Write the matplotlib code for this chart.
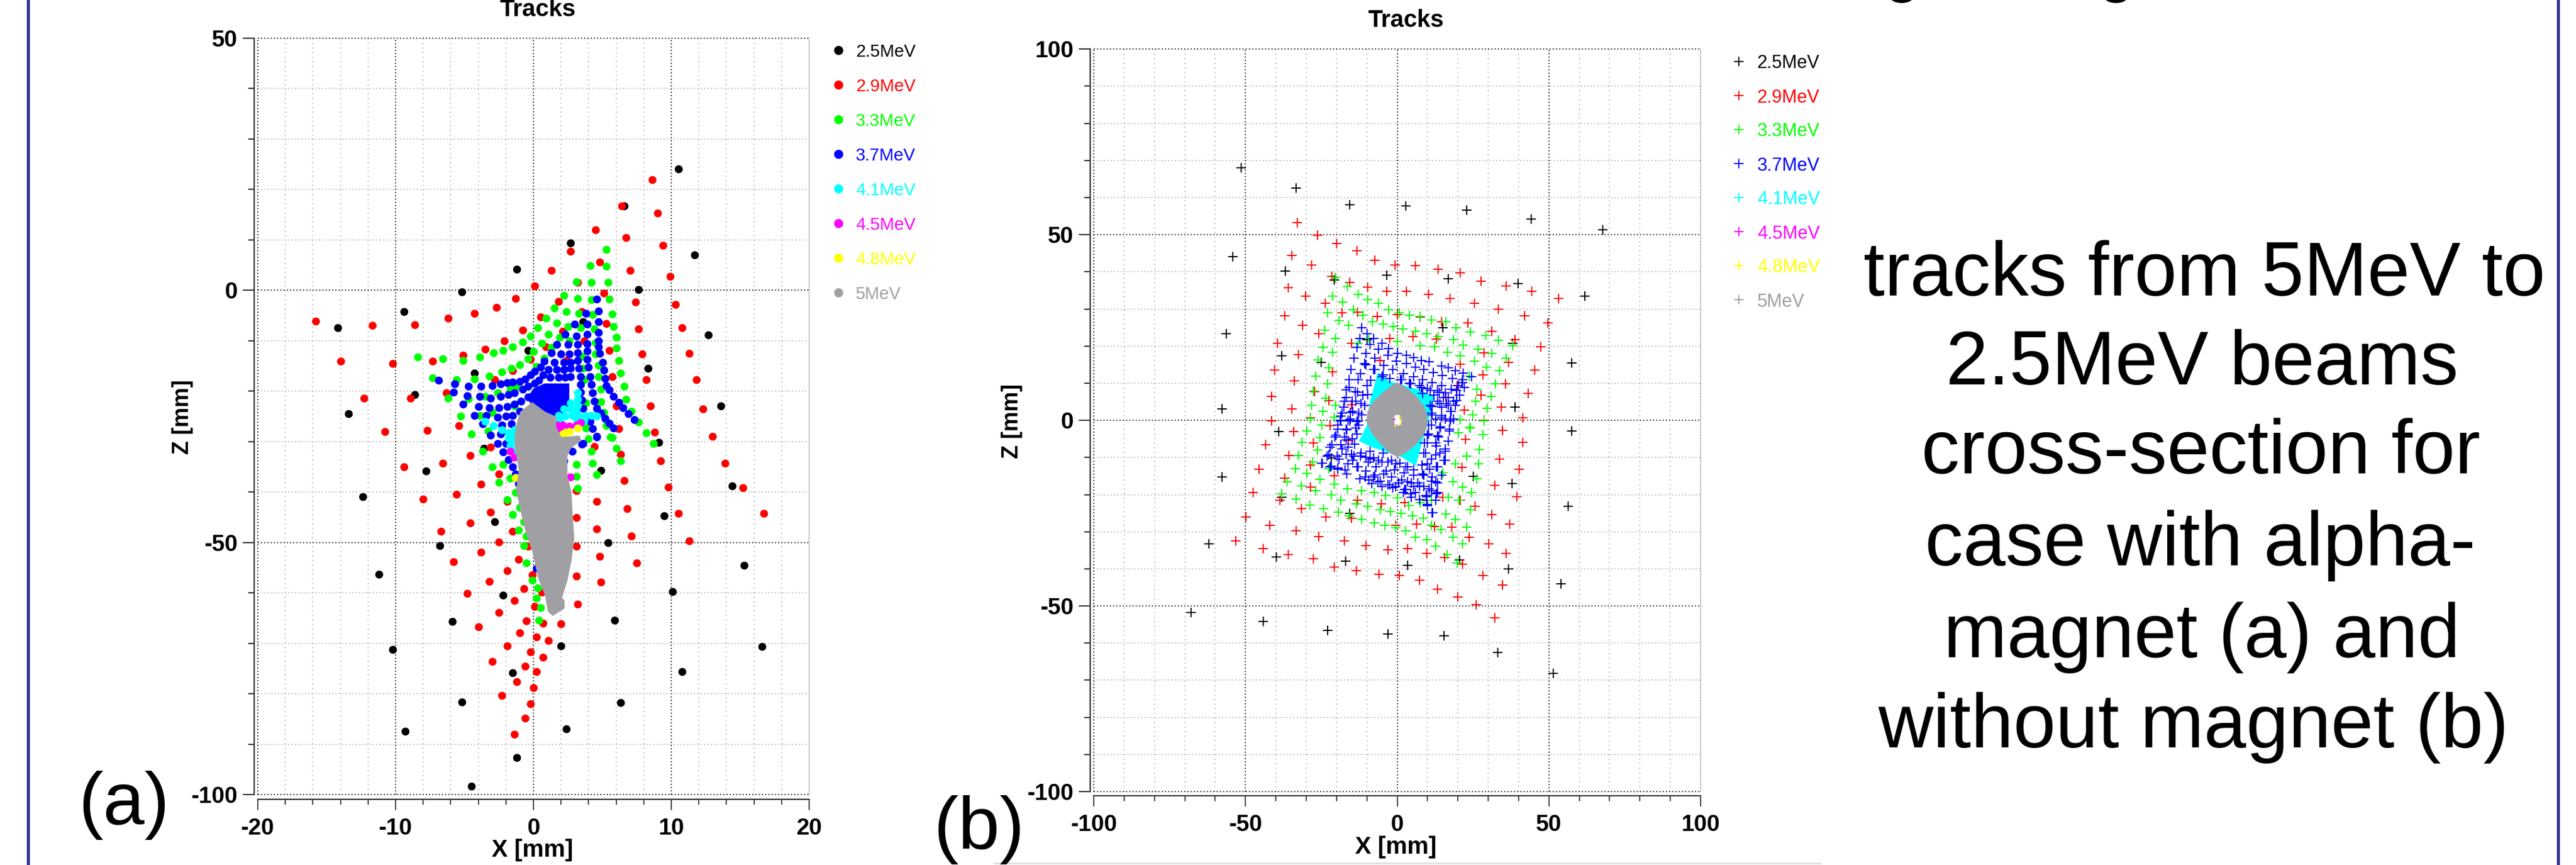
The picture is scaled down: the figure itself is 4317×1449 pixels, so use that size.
import matplotlib
matplotlib.use("Agg")
import matplotlib.pyplot as plt
from matplotlib import font_manager as fm
from matplotlib.patches import Ellipse
from matplotlib.lines import Line2D

W, H = 4317, 1449
names = {f.name for f in fm.fontManager.ttflist}
NARROW = "Liberation Sans Narrow" if "Liberation Sans Narrow" in names else "Liberation Sans"
plt.rcParams["axes.unicode_minus"] = False

ENERGIES = ["2.5MeV", "2.9MeV", "3.3MeV", "3.7MeV", "4.1MeV", "4.5MeV", "4.8MeV", "5MeV"]
COLORS = ["#000000", "#ff0000", "#00ff00", "#0000ff", "#00ffff", "#ff00ff", "#ffff00", "#a0a0a4"]

PANEL_TEXT = ["tracks from 5MeV to", "2.5MeV beams", "cross-section for", "case with alpha-", "magnet (a) and", "without magnet (b)"]

# ---------- panel (a), X and Z in mm ----------
A_BLACK = [(10.5,24.0),(6.6,16.7),(2.7,9.4),(11.7,7.0),(-1.2,4.1),(7.6,0.1),(-5.2,-0.3),(-9.4,-4.2),(-14.2,-7.4),
 (3.6,-6.3),(12.7,-8.9),(-0.4,-11.9),(8.3,-15.5),(-4.3,-16.5),(-8.6,-20.7),(13.6,-23.0),(-13.4,-24.5),(9.1,-30.2),
 (-3.6,-31.3),(-7.8,-35.9),(4.9,-35.7),(14.4,-38.8),(-12.4,-40.9),(9.5,-44.7),(-2.8,-45.9),(-6.8,-50.6),(5.4,-50.1),
 (15.3,-54.6),(-11.2,-56.3),(10.1,-59.8),(-2.2,-60.5),(-5.9,-65.7),(5.9,-65.5),(-10.2,-71.2),(2.0,-70.5),(16.6,-70.6),
 (10.8,-75.6),(-1.5,-75.9),(-5.2,-81.6),(6.3,-81.8),(-9.3,-87.5),(2.4,-87.0),(-1.2,-92.7),(-4.5,-98.4)]
A_RED = [(8.6,21.9),(6.4,16.7),(9.0,15.3),(4.5,12.0),(6.7,10.4),(9.4,8.9),(2.7,7.7),(4.8,5.6),(1.3,3.9),(7.0,3.9),(9.9,2.7),
 (3.2,1.5),(0.1,0.8),(5.1,-0.6),(-1.3,-1.6),(1.8,-2.2),(7.4,-2.3),(10.3,-2.8),(-2.7,-3.4),(3.5,-4.2),(-4.3,-4.6),(0.5,-5.3),
 (-6.2,-5.5),(-15.8,-6.1),(-11.7,-7.0),(-8.6,-6.8),(5.3,-6.6),(10.8,-7.5),(7.6,-7.7),(-0.8,-7.9),(2.1,-8.2),(-2.1,-10.0),
 (3.7,-10.1),(0.9,-11.2),(-3.5,-11.7),(5.5,-11.9),(11.3,-12.5),(7.9,-12.7),(-5.1,-12.9),(-0.2,-13.7),(-14.0,-14.1),(-7.3,-14.1),
 (-10.2,-14.6),(2.4,-13.9),(-1.5,-16.0),(5.7,-17.2),(-2.8,-17.8),(11.8,-17.7),(8.2,-17.8),(-6.3,-20.4),(-8.9,-21.4),(-12.3,-21.4),
 (8.5,-23.0),(12.3,-23.6),(6.0,-22.9),(-5.4,-26.8),(-10.8,-28.0),(-7.7,-27.8),(6.2,-27.5),(8.8,-28.2),(13.0,-29.0),(4.4,-31.0),
 (-3.1,-31.1),(-4.6,-32.8),(6.3,-32.5),(9.2,-33.8),(13.9,-34.3),(-6.6,-34.3),(-9.4,-35.0),(-2.5,-36.4),(6.6,-37.8),(-3.8,-38.5),
 (9.8,-39.0),(15.2,-39.2),(-5.6,-40.5),(-8.0,-41.4),(-1.9,-41.9),(3.1,-39.8),(4.6,-41.9),(6.8,-43.3),(-3.1,-44.0),(10.5,-44.2),
 (16.7,-44.2),(3.1,-45.1),(-4.6,-46.2),(4.6,-47.3),(-6.7,-47.8),(-1.5,-47.8),(7.1,-48.7),(11.3,-49.7),(-2.5,-49.9),(3.1,-50.8),
 (-0.4,-50.8),(-3.8,-52.0),(4.8,-52.8),(-1.1,-53.4),(-5.8,-53.9),(7.5,-54.1),(-1.9,-55.6),(3.1,-56.7),(-0.1,-56.4),(-3.2,-57.7),
 (4.9,-57.9),(-0.7,-59.2),(0.6,-59.9),(-4.8,-60.1),(-1.4,-61.5),(0.1,-62.7),(3.2,-62.2),(-2.5,-63.9),(-0.5,-65.6),(0.7,-66.0),
 (2.0,-66.2),(-4.0,-66.7),(-1.0,-67.9),(0.2,-68.8),(1.1,-69.5),(-1.9,-70.5),(-0.2,-71.7),(0.7,-72.8),(-3.0,-73.6),(-0.6,-74.5),
 (0.2,-75.6),(-1.2,-77.6),(0.0,-78.8),(-2.3,-80.4),(-0.2,-82.0),(-0.6,-84.9),(-1.4,-88.0)]
A_GREEN = [(5.3,8.1),(4.1,4.9),(5.3,4.8),(3.1,1.7),(4.2,1.5),(5.4,1.5),(2.2,-1.1),(3.2,-1.6),(4.2,-1.9),(5.5,-1.8),(1.5,-3.5),
 (2.4,-4.2),(3.3,-4.6),(4.3,-4.9),(5.7,-4.7),(0.9,-5.6),(1.7,-6.5),(3.4,-7.5),(4.4,-7.7),(5.8,-7.2),(0.3,-7.5),(2.5,-7.2),
 (-0.2,-9.1),(1.1,-8.7),(1.9,-9.3),(2.6,-10.0),(4.5,-10.4),(6.0,-9.4),(0.6,-10.5),(-0.8,-10.3),(-1.5,-11.2),(1.3,-11.4),
 (6.0,-11.5),(-2.2,-12.0),(-2.9,-12.4),(0.0,-12.2),(-3.9,-13.2),(-8.4,-13.2),(-6.6,-13.6),(-5.1,-13.9),(-0.4,-13.6),(0.8,-13.5),
 (3.5,-13.1),(4.5,-12.7),(6.2,-13.9),(-1.0,-14.8),(0.2,-15.1),(4.7,-14.9),(-1.6,-15.5),(3.6,-15.5),(-2.3,-16.2),(6.3,-16.4),
 (-3.2,-17.0),(-7.3,-17.4),(-5.6,-17.8),(-4.3,-17.6),(4.7,-17.2),(3.7,-17.7),(-1.2,-19.1),(6.6,-19.1),(4.9,-19.6),(-1.7,-19.6),
 (-2.6,-20.4),(-3.5,-21.1),(-6.2,-21.4),(-4.7,-21.5),(6.7,-21.7),(4.9,-22.1),(3.8,-22.4),(-1.4,-23.0),(-3.0,-24.3),(-3.9,-24.8),
 (-5.3,-25.0),(7.1,-24.0),(5.1,-24.2),(7.6,-26.2),(5.3,-26.9),(3.8,-27.3),(-3.3,-27.9),(-4.5,-28.5),(8.2,-28.3),(5.7,-29.2),
 (4.0,-29.5),(8.7,-30.4),(5.6,-29.1),(-3.7,-31.9),(4.2,-31.9),(6.0,-31.4),(6.3,-33.8),(3.1,-34.5),(4.3,-34.3),(-2.2,-34.5),
 (-3.0,-35.0),(3.1,-36.9),(4.6,-36.6),(-1.7,-37.3),(-2.5,-38.1),(3.2,-39.3),(-1.3,-40.1),(-1.9,-41.5),(-1.0,-43.1),(-1.5,-44.5),
 (-0.7,-45.9),(-1.1,-47.6),(-0.5,-48.7),(-0.7,-50.7),(-0.5,-54.1),(-0.1,-57.5),(0.3,-59.0),(0.2,-61.1),(0.5,-62.9),(0.4,-65.5)]
A_BLUE = [(4.6,-1.8),(4.7,-4.1),(3.8,-4.6),(4.7,-6.3),(3.0,-6.7),(3.9,-6.7),(4.7,-8.4),(2.3,-8.8),(3.1,-9.1),(3.9,-8.8),(4.7,-10.0),
 (1.7,-10.8),(2.5,-10.8),(3.2,-10.8),(3.9,-10.6),(4.7,-11.2),(1.3,-12.4),(2.0,-12.6),(2.6,-12.7),(3.2,-12.4),(3.9,-12.1),(4.8,-12.5),
 (0.8,-14.1),(1.5,-14.3),(2.2,-14.3),(2.7,-14.3),(3.2,-14.0),(3.9,-13.7),(5.0,-14.3),(0.5,-15.3),(1.1,-15.7),(1.7,-15.7),(2.2,-15.7),
 (2.7,-15.5),(3.3,-15.5),(4.0,-15.3),(5.1,-15.9),(0.1,-16.1),(0.7,-16.8),(-0.2,-16.8),(-0.6,-17.6),(-1.0,-18.1),(-1.5,-18.2),
 (-1.9,-18.3),(-2.4,-18.6),(-3.0,-18.9),(-3.8,-19.0),(-4.7,-19.0),(-5.7,-18.6),(-6.9,-17.9),(0.4,-17.9),(1.2,-17.3),(1.8,-17.3),
 (2.3,-17.3),(2.7,-17.1),(3.4,-17.1),(4.1,-17.1),(5.2,-17.5),(5.3,-18.9),(5.5,-19.8),(5.8,-21.0),(6.2,-22.2),(6.5,-23.3),(6.9,-24.5),
 (7.3,-25.7),(0.1,-18.5),(-0.4,-19.1),(-0.8,-19.6),(-1.4,-20.3),(-1.8,-20.7),(-2.4,-21.1),(-3.1,-21.4),(-3.9,-21.1),(-4.8,-20.9),
 (-5.8,-20.2),(3.4,-18.7),(4.2,-18.7),(3.4,-20.2),(4.3,-20.4),(3.5,-21.8),(4.4,-22.0),(3.6,-23.4),(4.6,-23.4),(4.9,-24.4),(5.2,-25.4),
 (5.5,-26.4),(5.8,-27.3),(4.1,-26.0),(4.3,-27.5),(4.6,-29.0),(3.6,-30.4),(0.1,-20.6),(-0.4,-21.2),(-0.9,-22.0),(-1.4,-22.6),(-1.9,-23.1),
 (-2.5,-23.3),(-3.2,-23.3),(-4.0,-23.1),(-5.1,-22.6),(-1.0,-24.0),(-1.5,-24.8),(-2.0,-25.0),(-2.6,-25.2),(-3.4,-24.9),(-4.3,-24.8),
 (-1.6,-26.5),(-2.3,-26.7),(-3.7,-26.5),(-2.4,-28.5),(-3.1,-28.8),(-2.6,-30.4),(-1.7,-30.7),(-2.0,-30.4),(-2.2,-32.1),(-1.8,-33.6),
 (-1.5,-35.0),(-1.3,-36.4),(-1.1,-38.3),(2.8,-31.9),(3.5,-30.5),(4.6,-29.1),(2.2,-33.9),(0.2,-55.1)]
A_BLUE_MASS = [(0.0,-19.5),(0.8,-18.5),(2.6,-18.5),(2.6,-23.0),(1.8,-25.6),(-0.1,-22.8),(-0.5,-21.5)]
A_CYAN = [(3.2,-20.4),(3.2,-21.6),(3.2,-22.8),(2.7,-22.4),(2.7,-23.6),(3.1,-24.0),(2.2,-23.6),(1.8,-24.8),(2.3,-25.0),(2.8,-24.8),
 (3.3,-24.8),(3.8,-24.8),(4.2,-24.8),(4.6,-25.0),(1.9,-25.8),(3.1,-25.4),(3.7,-25.8),(-3.5,-26.0),(-2.9,-26.9),(-2.3,-27.7),(-1.8,-28.3),
 (-1.4,-27.7),(-1.8,-29.3),(-1.5,-30.1),(-1.3,-28.9),(-1.7,-29.1),(-1.7,-30.8),(-1.5,-31.9)]
A_MAGENTA = [(1.7,-26.7),(2.1,-26.7),(2.6,-27.0),(3.1,-26.7),(3.4,-26.3),(1.9,-27.5),(-1.7,-31.9),(-1.4,-33.1),(2.7,-37.0)]
A_YELLOW = [(3.2,-27.3),(2.6,-28.1),(2.3,-28.3),(2.1,-28.5),(2.1,-29.5),(-1.3,-37.2)]
A_GRAY = [(-0.1,-22.4),(0.8,-24.2),(1.6,-25.2),(1.6,-27.3),(2.0,-29.3),(3.3,-29.0),(3.4,-29.8),(2.7,-31.1),(2.4,-32.8),(2.4,-36.7),
 (2.7,-40.1),(2.8,-45.2),(2.9,-49.2),(2.7,-53.7),(2.4,-57.6),(2.0,-61.0),(2.2,-61.6),(2.2,-63.0),(1.4,-64.4),(1.1,-63.6),(0.9,-60.5),
 (0.4,-57.1),(0.0,-52.0),(-0.5,-48.0),(-0.9,-43.5),(-1.2,-39.5),(-1.0,-35.6),(-1.3,-31.1),(-1.3,-28.8),(-1.2,-27.0),(-1.1,-25.8),(-0.9,-24.2)]

# ---------- panel (b), X and Z in mm ----------
B_BLACK = [(-51.4,68.1),(-33.3,62.5),(-15.6,58.0),(2.8,57.7),(23.0,56.7),(44.2,54.2),(67.7,51.4),(-54.2,44.1),(-36.9,40.3),(-20.7,37.8),
 (-3.4,39.1),(16.9,38.1),(39.9,36.9),(61.9,33.4),(-56.4,23.3),(-38.0,17.4),(-25.0,15.7),(15.1,24.9),(38.0,20.7),(57.6,15.5),(-57.8,3.1),
 (38.8,3.5),(57.6,-2.8),(-39.1,-3.1),(-57.8,-15.2),(25.0,-15.1),(37.8,-17.1),(-38.0,-20.7),(9.8,-21.5),(56.4,-23.2),(-15.6,-25.1),
 (-62.1,-33.2),(-39.9,-36.8),(-17.1,-38.0),(3.4,-39.0),(20.5,-37.6),(36.7,-40.0),(54.0,-44.0),(-67.9,-51.7),(-44.2,-54.2),(-23.0,-56.6),
 (-3.0,-57.6),(15.4,-58.0),(33.1,-62.5),(51.4,-68.1),(-10.0,21.8),(21.6,10.2),(-21.8,-10.1)]
B_RED = [(-32.9,53.3),(-26.3,49.9),(-19.9,47.6),(-13.2,45.7),(-34.8,44.4),(-7.3,43.2),(-28.2,41.9),(-0.6,41.9),(6.0,41.6),(13.5,40.7),
 (20.7,39.7),(-21.6,38.8),(-15.6,37.2),(27.7,37.5),(35.9,36.2),(-35.9,35.8),(-9.8,35.9),(44.4,34.7),(-3.4,34.8),(3.0,34.8),(10.3,34.0),
 (-30.1,33.4),(17.5,32.8),(53.2,32.8),(-23.7,31.5),(25.4,31.5),(33.3,29.9),(-18.1,29.0),(-13.0,29.2),(0.0,28.5),(-6.6,28.0),(-37.1,28.2),
 (42.0,28.2),(7.5,27.9),(14.7,26.6),(49.7,26.2),(-31.2,25.6),(23.3,26.2),(31.2,24.0),(-25.8,23.4),(5.3,22.6),(-2.4,22.1),(12.8,21.9),
 (-39.5,20.8),(38.8,21.8),(-15.1,20.8),(21.8,20.3),(47.2,19.8),(-32.5,17.7),(28.6,18.2),(36.7,15.7),(-5.6,16.1),(20.7,15.1),(-40.5,13.6),
 (45.3,13.6),(-21.3,13.0),(-33.9,10.7),(28.2,12.3),(35.6,9.8),(19.8,9.4),(-27.3,7.7),(43.1,7.2),(-41.4,6.4),(27.7,6.7),(-22.6,5.4),(16.0,6.1),
 (-34.8,3.1),(34.4,3.5),(-15.1,4.2),(22.2,2.8),(-28.6,0.6),(-41.4,-0.2),(28.6,0.0),(41.4,0.6),(-34.2,-3.1),(34.8,-2.7),(-22.2,-1.5),
 (-43.3,-6.5),(41.4,-5.9),(-27.7,-6.1),(-16.0,-5.4),(22.6,-5.1),(-35.7,-9.5),(33.7,-10.5),(-28.6,-12.1),(-45.5,-13.2),(40.3,-13.2),
 (-20.7,-14.9),(-37.1,-15.5),(32.2,-17.5),(21.3,-12.6),(-28.6,-18.0),(-47.4,-19.5),(39.4,-20.6),(-13.0,-21.5),(-38.6,-21.6),(15.1,-20.7),
 (20.7,-21.6),(-5.3,-22.5),(2.4,-22.2),(25.6,-23.2),(-31.6,-23.8),(31.2,-25.4),(-49.9,-26.1),(-23.5,-26.1),(-15.1,-26.4),(37.1,-28.0),
 (-42.0,-28.2),(-7.5,-27.6),(-0.4,-28.2),(6.4,-28.0),(17.9,-28.8),(12.2,-28.6),(-33.3,-29.8),(23.7,-31.5),(-25.8,-31.3),(-53.2,-32.5),
 (-17.5,-32.5),(30.1,-33.2),(-10.3,-33.8),(-44.2,-34.5),(-3.0,-34.8),(3.4,-34.5),(9.8,-35.8),(35.9,-35.8),(-35.9,-36.2),(15.6,-36.9),
 (-27.7,-37.3),(21.6,-38.7),(-20.7,-39.6),(-13.5,-40.5),(-6.0,-41.4),(28.2,-41.8),(0.6,-41.8),(7.3,-43.0),(34.8,-44.3),(13.2,-45.5),
 (20.0,-47.5),(26.1,-49.7),(32.2,-53.2)]
B_GREEN = [(-20.3,38.4),(-16.4,36.1),(-12.8,34.0),(-21.3,33.4),(-9.8,32.5),(-17.9,31.9),(-6.2,31.5),(-14.5,29.7),(-2.8,29.7),(-23.0,29.0),
 (-11.3,28.4),(0.6,28.9),(4.1,28.4),(7.5,28.0),(11.3,27.1),(-19.2,26.9),(-8.1,26.5),(-4.7,25.9),(16.0,26.5),(-16.0,25.6),(-1.3,25.2),(1.9,24.6),
 (-23.9,24.3),(19.4,24.9),(6.0,24.0),(24.1,23.9),(9.8,23.3),(-20.3,22.0),(-9.4,22.1),(13.5,22.6),(29.2,22.9),(0.0,21.3),(-12.8,20.7),(18.5,21.7),
 (33.3,21.5),(7.5,20.2),(12.2,19.8),(-24.5,19.7),(38.0,20.1),(21.8,20.3),(26.7,19.2),(16.6,18.4),(-21.3,18.3),(31.2,18.0),(20.7,17.4),(-26.0,16.3),
 (35.9,16.7),(25.4,16.0),(-22.6,14.2),(29.4,14.4),(33.7,13.3),(-26.9,11.9),(23.7,11.9),(32.4,9.8),(26.3,8.4),(-23.0,9.8),(-27.7,7.9),(31.0,6.4),
 (-23.5,6.0),(25.8,5.1),(-20.3,4.1),(-28.2,4.1),(29.5,3.2),(-24.5,2.5),(24.8,1.5),(-28.6,0.5),(-20.7,0.8),(20.7,0.2),(28.6,-0.2),(-24.8,-1.2),
 (23.9,-1.9),(-29.7,-2.8),(28.2,-3.9),(-25.5,-4.7),(-31.4,-5.9),(20.1,-3.4),(24.0,-2.1),(-26.3,-8.0),(27.1,-7.8),(-32.5,-9.5),(23.0,-9.7),
 (-27.8,-11.2),(19.1,-11.7),(26.9,-11.7),(-33.5,-13.0),(-22.6,-13.0),(15.1,-14.2),(-29.8,-14.3),(26.3,-15.8),(-25.5,-15.9),(-36.2,-16.5),
 (18.4,-16.5),(-31.6,-17.6),(-20.7,-17.2),(21.5,-18.0),(-26.8,-18.9),(-16.4,-18.4),(-11.7,-19.0),(-38.1,-19.8),(-21.7,-20.1),(24.5,-19.5),
 (-7.5,-19.5),(-3.8,-20.3),(-18.6,-21.5),(-33.3,-21.2),(0.0,-20.9),(11.3,-21.5),(16.9,-20.7),(20.3,-21.6),(-13.5,-22.5),(7.5,-22.2),(-28.8,-22.8),
 (-9.8,-23.2),(3.8,-23.0),(-5.6,-24.1),(-24.3,-23.8),(24.1,-24.1),(-2.3,-24.5),(-19.4,-24.8),(1.3,-25.1),(5.1,-25.7),(8.5,-26.3),(16.0,-25.3),
 (19.2,-26.6),(-15.9,-25.7),(-11.7,-26.7),(-7.5,-27.6),(-4.1,-28.2),(-0.4,-29.0),(2.8,-29.8),(11.3,-28.2),(14.5,-29.4),(23.0,-28.8),(6.0,-31.5),
 (18.3,-31.5),(9.8,-32.2),(21.5,-33.2),(12.7,-33.9),(16.4,-36.1),(19.8,-38.4)]
B_BLUE = [(-11.7,25.0),(-10.0,23.4),(-7.7,22.0),(-5.1,20.7),(-2.8,19.3),(0.1,18.0),(3.1,17.5),(5.4,16.9),(8.0,16.1),(10.6,15.8),(14.6,14.7),
 (16.9,14.2),(19.2,13.4),(21.8,12.8),(24.4,11.8),(-12.3,22.0),(-9.0,20.4),(-6.1,19.1),(-3.1,17.5),(-0.2,15.9),(3.1,15.3),(6.0,14.3),(8.7,13.7),
 (11.9,12.9),(14.9,12.1),(18.2,11.3),(21.4,10.2),(-13.3,19.6),(-10.4,18.0),(-7.4,16.7),(-4.5,14.8),(-1.5,13.7),(2.1,12.6),(5.4,11.8),(8.3,11.0),
 (11.6,10.2),(14.6,9.4),(17.8,8.4),(22.1,8.9),(-14.3,16.7),(-10.7,15.3),(-7.7,13.7),(-5.1,11.8),(1.1,11.0),(4.1,10.0),(8.0,8.9),(11.0,8.1),
 (13.9,7.6),(16.9,6.2),(20.5,6.8),(-15.3,13.7),(-12.0,12.6),(-8.7,10.8),(13.2,5.1),(16.2,4.6),(19.1,4.1),(-15.9,8.9),(-13.0,7.6),(-9.7,7.0),
 (-16.9,6.2),(-13.6,5.1),(-10.7,4.1),(-17.6,3.5),(-14.6,2.5),(-11.7,1.4),(-18.6,1.1),(-15.6,-0.2),(-12.7,-1.3),(-19.5,-1.3),(-16.6,-2.6),
 (-13.3,-3.7),(-20.2,-4.0),(-16.9,-5.3),(-14.0,-6.4),(-21.5,-6.6),(-18.2,-7.7),(-15.0,-9.1),(-22.5,-9.3),(-19.2,-10.4),(-16.3,-11.7),(-24.8,-11.5),
 (-21.8,-12.3),(-19.5,-13.1),(-16.6,-14.4),(11.6,3.8),(14.6,3.5),(17.8,2.5),(11.6,1.4),(14.6,0.9),(17.5,-0.2),(11.3,-1.3),(14.2,-1.8),(17.2,-2.9),
 (10.3,-3.7),(13.6,-4.5),(16.9,-5.6),(10.0,-6.1),(12.9,-6.9),(15.9,-7.7),(9.3,-8.8),(12.6,-9.3),(15.5,-10.7),(12.9,-12.5),(10.0,-11.7),(-12.0,-9.6),
 (-9.0,-10.4),(-6.1,-10.7),(-3.1,-11.2),(-0.5,-11.7),(2.8,-12.5),(5.4,-13.3),(8.3,-14.4),(11.6,-15.2),(-13.3,-12.5),(-10.4,-13.6),(-7.4,-14.7),
 (-4.5,-14.4),(-1.8,-15.2),(1.4,-16.0),(4.7,-16.8),(7.3,-17.6),(10.6,-18.4),(13.2,-16.8),(-12.3,-15.8),(-9.4,-16.0),(-6.4,-16.6),(-3.1,-17.4),
 (-0.5,-17.9),(2.8,-18.7),(6.0,-19.5),(9.6,-20.3),(12.9,-19.8),(-8.4,-17.1),(-5.1,-17.9),(-1.5,-18.2),(2.1,-19.5),(4.7,-20.8),(7.3,-21.4),
 (10.0,-22.7),(11.6,-24.9)]
B_BLUE_MORE = [(-18.5,-0.2),(-15.5,0.3),(-12.9,-0.2),(-19.5,-2.4),(-16.9,-2.4),(-13.6,-2.1),(-20.5,-4.5),(-17.5,-4.5),(-14.9,-5.0),(-22.1,-7.2),
 (-18.5,-6.6),(-16.2,-7.2),(-23.1,-9.6),(-19.8,-9.6),(-16.9,-9.1),(-14.2,-9.6),(-24.7,-11.5),(-22.1,-12.5),(-19.5,-12.8),(-17.2,-13.3),(-14.6,-10.7),
 (-11.9,-8.8),(-12.9,-12.5),(-10.3,-9.9),(-9.0,-8.3),(-7.7,-10.1),(-4.7,-8.8),(-7.0,-12.5),(-9.6,-11.2),(-10.6,-15.2),(-7.7,-15.2),(-5.0,-11.2),
 (-1.8,-10.7),(0.9,-11.5),(3.5,-12.5),(-3.7,-13.6),(-0.8,-13.3),(2.2,-14.1),(5.4,-14.7),(-5.7,-16.3),(-2.4,-17.4),(0.5,-16.8),(3.5,-16.6),(6.8,-16.8),
 (2.5,-18.7),(5.4,-17.9),(8.7,-17.9),(11.3,-19.0),(4.5,-19.8),(7.4,-21.4),(9.7,-20.6),(13.3,-19.5),(12.7,-21.6),(10.0,-23.0),(11.7,-24.9),(8.1,-12.0),
 (10.7,-13.1),(14.6,-14.7),(8.7,-8.8),(11.3,-10.4),(14.0,-8.8),(15.9,-10.7),(9.0,-6.1),(12.7,-6.1),(15.9,-8.3),(10.0,-4.0),(13.3,-4.2),(10.4,-1.3),
 (14.0,-2.1),(17.6,0.3),(17.2,-2.4),(13.3,-12.5),(8.7,-14.7),(11.3,-16.3),(12.7,-16.6),(-15.9,11.0),(-12.9,11.0),(-10.0,9.4),(-16.9,8.3),(-13.9,7.8),
 (-11.3,6.7),(-17.5,5.1),(-14.9,5.1),(-11.9,4.6),(-18.2,1.9),(-15.5,2.1),(-12.6,1.9),(-18.8,0.0),(-16.2,0.0),(-13.2,-0.3),(11.0,4.0),(14.0,4.6),(16.9,4.0),
 (19.5,5.4),(11.3,1.9),(14.6,1.3),(17.6,2.4),(12.7,0.3),(15.9,0.3),(18.6,0.3),(-10.3,15.0),(-7.3,13.7),(-4.7,12.3),(-2.4,11.3),(1.5,11.0),(4.5,9.9),
 (7.4,9.4),(10.0,8.6),(13.3,8.0),(15.9,7.5),(19.5,8.0),(18.6,5.1),(15.3,6.2),(12.0,6.7),(8.4,7.2),(21.5,11.0),(20.2,9.4)]
B_CYAN = [(-6.4,12.9),(-2.5,10.5),(6.7,8.4),(12.3,6.4),(10.3,-0.2),(8.7,-4.5),(6.1,-12.3),(1.4,-9.9),(-8.4,-7.2),(-12.6,-5.6),(-10.0,-1.3),(-9.0,5.1)]
B_GRAY = [(-0.2,10.2),(2.8,8.9),(6.0,6.8),(8.7,4.1),(10.0,1.4),(9.8,-1.8),(8.7,-4.0),(6.0,-6.7),(2.8,-8.8),(0.1,-9.9),(-2.5,-8.8),(-5.8,-6.1),
 (-8.5,-3.4),(-10.2,-0.2),(-9.7,2.5),(-8.3,4.7),(-5.1,7.3),(-1.8,9.4)]
B_WHITE = [(-0.3,0.4),(0.4,-0.4),(0.0,0.9),(-0.1,-0.8)]
B_MAGENTA = [(-1.1,0.4),(-0.5,-1.3)]
B_YELLOW = [(0.7,1.2),(1.0,0.2),(-0.7,-1.4),(0.8,-1.0)]

A_XTICKS = [-20, -10, 0, 10, 20]
A_XMINOR = [-18, -16, -14, -12, -8, -6, -4, -2, 2, 4, 6, 8, 12, 14, 16, 18]
A_YTICKS = [-100, -50, 0, 50]
B_XTICKS = [-100, -50, 0, 50, 100]
B_YTICKS = [-100, -50, 0, 50, 100]
AB_YMINOR_A = [-90, -80, -70, -60, -40, -30, -20, -10, 10, 20, 30, 40]
B_MINOR = [-90, -80, -70, -60, -40, -30, -20, -10, 10, 20, 30, 40, 60, 70, 80, 90]


def fx(px):
    return px / W


def fy(py):
    return 1 - py / H


def split(points):
    return [p[0] for p in points], [p[1] for p in points]


fig = plt.figure(figsize=(W / 100, H / 100), dpi=100, facecolor="white")


def make_axes(box, xlim, ylim, xmaj, xmin, ymaj, ymin, left_gap, bottom_gap, title_xy, xlabel_xy, ylabel_xy):
    l, t, r, b = box
    ax = fig.add_axes([fx(l), fy(b), (r - l) / W, (b - t) / H])
    ax.set_xlim(xlim)
    ax.set_ylim(ylim)
    ax.set_xticks(xmaj)
    ax.set_xticklabels([str(v) for v in xmaj])
    ax.set_yticks(ymaj)
    ax.set_yticklabels([str(v) for v in ymaj])
    ax.set_xticks(xmin, minor=True)
    ax.set_yticks(ymin, minor=True)
    ax.spines["top"].set_visible(False)
    ax.spines["right"].set_color("#d0d0d0")
    ax.spines["right"].set_linewidth(1.2)
    ax.spines["left"].set_position(("outward", left_gap * 0.72))
    ax.spines["bottom"].set_position(("outward", bottom_gap * 0.72))
    for s in ("left", "bottom"):
        ax.spines[s].set_color("#333333")
        ax.spines[s].set_linewidth(1.6)
    ax.tick_params(axis="x", which="major", length=13, width=1.3, color="#333333", pad=9)
    ax.tick_params(axis="x", which="minor", length=6.5, width=1.3, color="#333333")
    ax.tick_params(axis="y", which="major", length=14, width=1.5, color="#333333", pad=6)
    ax.tick_params(axis="y", which="minor", length=7, width=1.5, color="#333333")
    for lab in ax.get_xticklabels() + ax.get_yticklabels():
        lab.set_fontfamily(NARROW)
        lab.set_fontweight("bold")
        lab.set_fontsize(28)
    ax.grid(True, which="major", color="#111111", lw=1.3, ls=(0, (1, 2.0)), zorder=0)
    ax.grid(True, which="minor", axis="x", color="#a8a8a8", lw=1.2, ls=(0, (1, 3.6)), zorder=0)
    ax.grid(True, which="minor", axis="y", color="#a8a8a8", lw=1.2, ls=(0, (1, 2.4)), zorder=0)
    for gl in ax.get_xgridlines() + ax.get_ygridlines():
        gl.set_clip_on(False)
    ax.set_axisbelow(True)
    ax.set_xlabel("X [mm]", fontfamily=NARROW, fontweight="bold", fontsize=29, va="center")
    ax.set_ylabel("Z [mm]", fontfamily="Liberation Sans", fontweight="bold", fontsize=27, va="center")
    ax.xaxis.set_label_coords(fx(xlabel_xy[0]), fy(xlabel_xy[1]), transform=fig.transFigure)
    ax.yaxis.set_label_coords(fx(ylabel_xy[0]), fy(ylabel_xy[1]), transform=fig.transFigure)
    fig.text(fx(title_xy[0]), fy(title_xy[1]), "Tracks", ha="center", va="center",
             fontfamily=NARROW, fontweight="bold", fontsize=29)
    return ax


# ---------- panel (a) ----------
ax_a = make_axes((432, 63.6, 1356, 1331), (-20, 20), (-100, 50), A_XTICKS, A_XMINOR, A_YTICKS, AB_YMINOR_A,
                 6, 8, (901, 16), (892, 1424), (306, 698))
dot = dict(marker="o", s=92, linewidths=0)
for pts, c, z in ((A_BLACK, COLORS[0], 3), (A_RED, COLORS[1], 4), (A_GREEN, COLORS[2], 5)):
    ax_a.scatter(*split(pts), color=c, zorder=z, **dot)
ax_a.fill(*split(A_BLUE_MASS), color=COLORS[3], lw=0, zorder=6)
ax_a.scatter(*split(A_BLUE), color=COLORS[3], zorder=6, **dot)
ax_a.scatter(*split(A_CYAN), color=COLORS[4], zorder=7, **dot)
ax_a.scatter(*split(A_MAGENTA), color=COLORS[5], zorder=8, **dot)
ax_a.scatter(*split(A_YELLOW), color=COLORS[6], zorder=9, **dot)
ax_a.fill(*split(A_GRAY), color=COLORS[7], lw=2, zorder=10)

# ---------- panel (b) ----------
ax_b = make_axes((1833, 82.3, 2850, 1326), (-100, 100), (-100, 100), B_XTICKS, B_MINOR, B_YTICKS, B_MINOR,
                 6, 7, (2356, 34), (2339, 1419), (1696, 705))
cross = dict(marker="+", s=117, linewidths=1.4)
for pts, c, z in ((B_BLACK, COLORS[0], 3), (B_RED, COLORS[1], 4), (B_GREEN, COLORS[2], 5)):
    ax_b.scatter(*split(pts), color=c, zorder=z, **cross)
ax_b.fill(*split(B_CYAN), color=COLORS[4], lw=0, zorder=5.5)
ax_b.scatter(*split(B_BLUE), color=COLORS[3], zorder=6, **cross)
ax_b.scatter(*split(B_BLUE_MORE), color=COLORS[3], zorder=6, **cross)
ax_b.fill(*split(B_GRAY), color=COLORS[7], lw=0, zorder=8)
tiny = dict(marker="+", s=12, linewidths=1)
ax_b.scatter(*split(B_WHITE), color="white", s=30, marker="s", linewidths=0, zorder=9)
ax_b.scatter(*split(B_MAGENTA), color=COLORS[5], zorder=10, **tiny)
ax_b.scatter(*split(B_YELLOW), color=COLORS[6], zorder=10, **tiny)

# ---------- legends ----------
def legend(mx, tx, y0, dy, marker, ms, mew, size):
    for i, (name, c) in enumerate(zip(ENERGIES, COLORS)):
        y = y0 + i * dy
        fig.add_artist(Line2D([fx(mx)], [fy(y)], transform=fig.transFigure, marker=marker, ms=ms, mew=mew,
                              color=c, mfc=c, mec=c, ls="none"))
        fig.text(fx(tx), fy(y), name, color=c, ha="left", va="center_baseline",
                 fontfamily="Liberation Sans", fontsize=size)


legend(1405, 1434, 84, 58, "o", 11, 0, 21)
legend(2913.6, 2945, 103, 57, "+", 11.5, 1.3, 22)

# ---------- slide text ----------
for text, base, cx in zip(PANEL_TEXT, (495, 644, 793, 947, 1101, 1252), (3694, 3690, 3688, 3687, 3690, 3676)):
    fig.text(fx(cx), fy(base), text, ha="center", va="baseline", fontfamily="Liberation Sans", fontsize=92)
fig.text(fx(208), fy(1381), "(a)", ha="center", va="baseline", fontfamily="Liberation Sans", fontsize=90)
fig.text(fx(1641), fy(1422), "(b)", ha="center", va="baseline", fontfamily="Liberation Sans", fontsize=90)

# ---------- slide frame ----------
for xpos in (47, 4287):
    fig.add_artist(Line2D([fx(xpos)] * 2, [0, 1], transform=fig.transFigure, color="#2e3192", lw=3.6))
fig.add_artist(Line2D([fx(1667), fx(3051)], [fy(1446)] * 2, transform=fig.transFigure, color="#e0e0e0", lw=2.2))
for xpos in (3187, 3546):
    fig.add_artist(Ellipse((fx(xpos), fy(-3)), 36 / W, 16 / H, transform=fig.transFigure, color="black", lw=0))

fig.savefig("out.png", dpi=100)
